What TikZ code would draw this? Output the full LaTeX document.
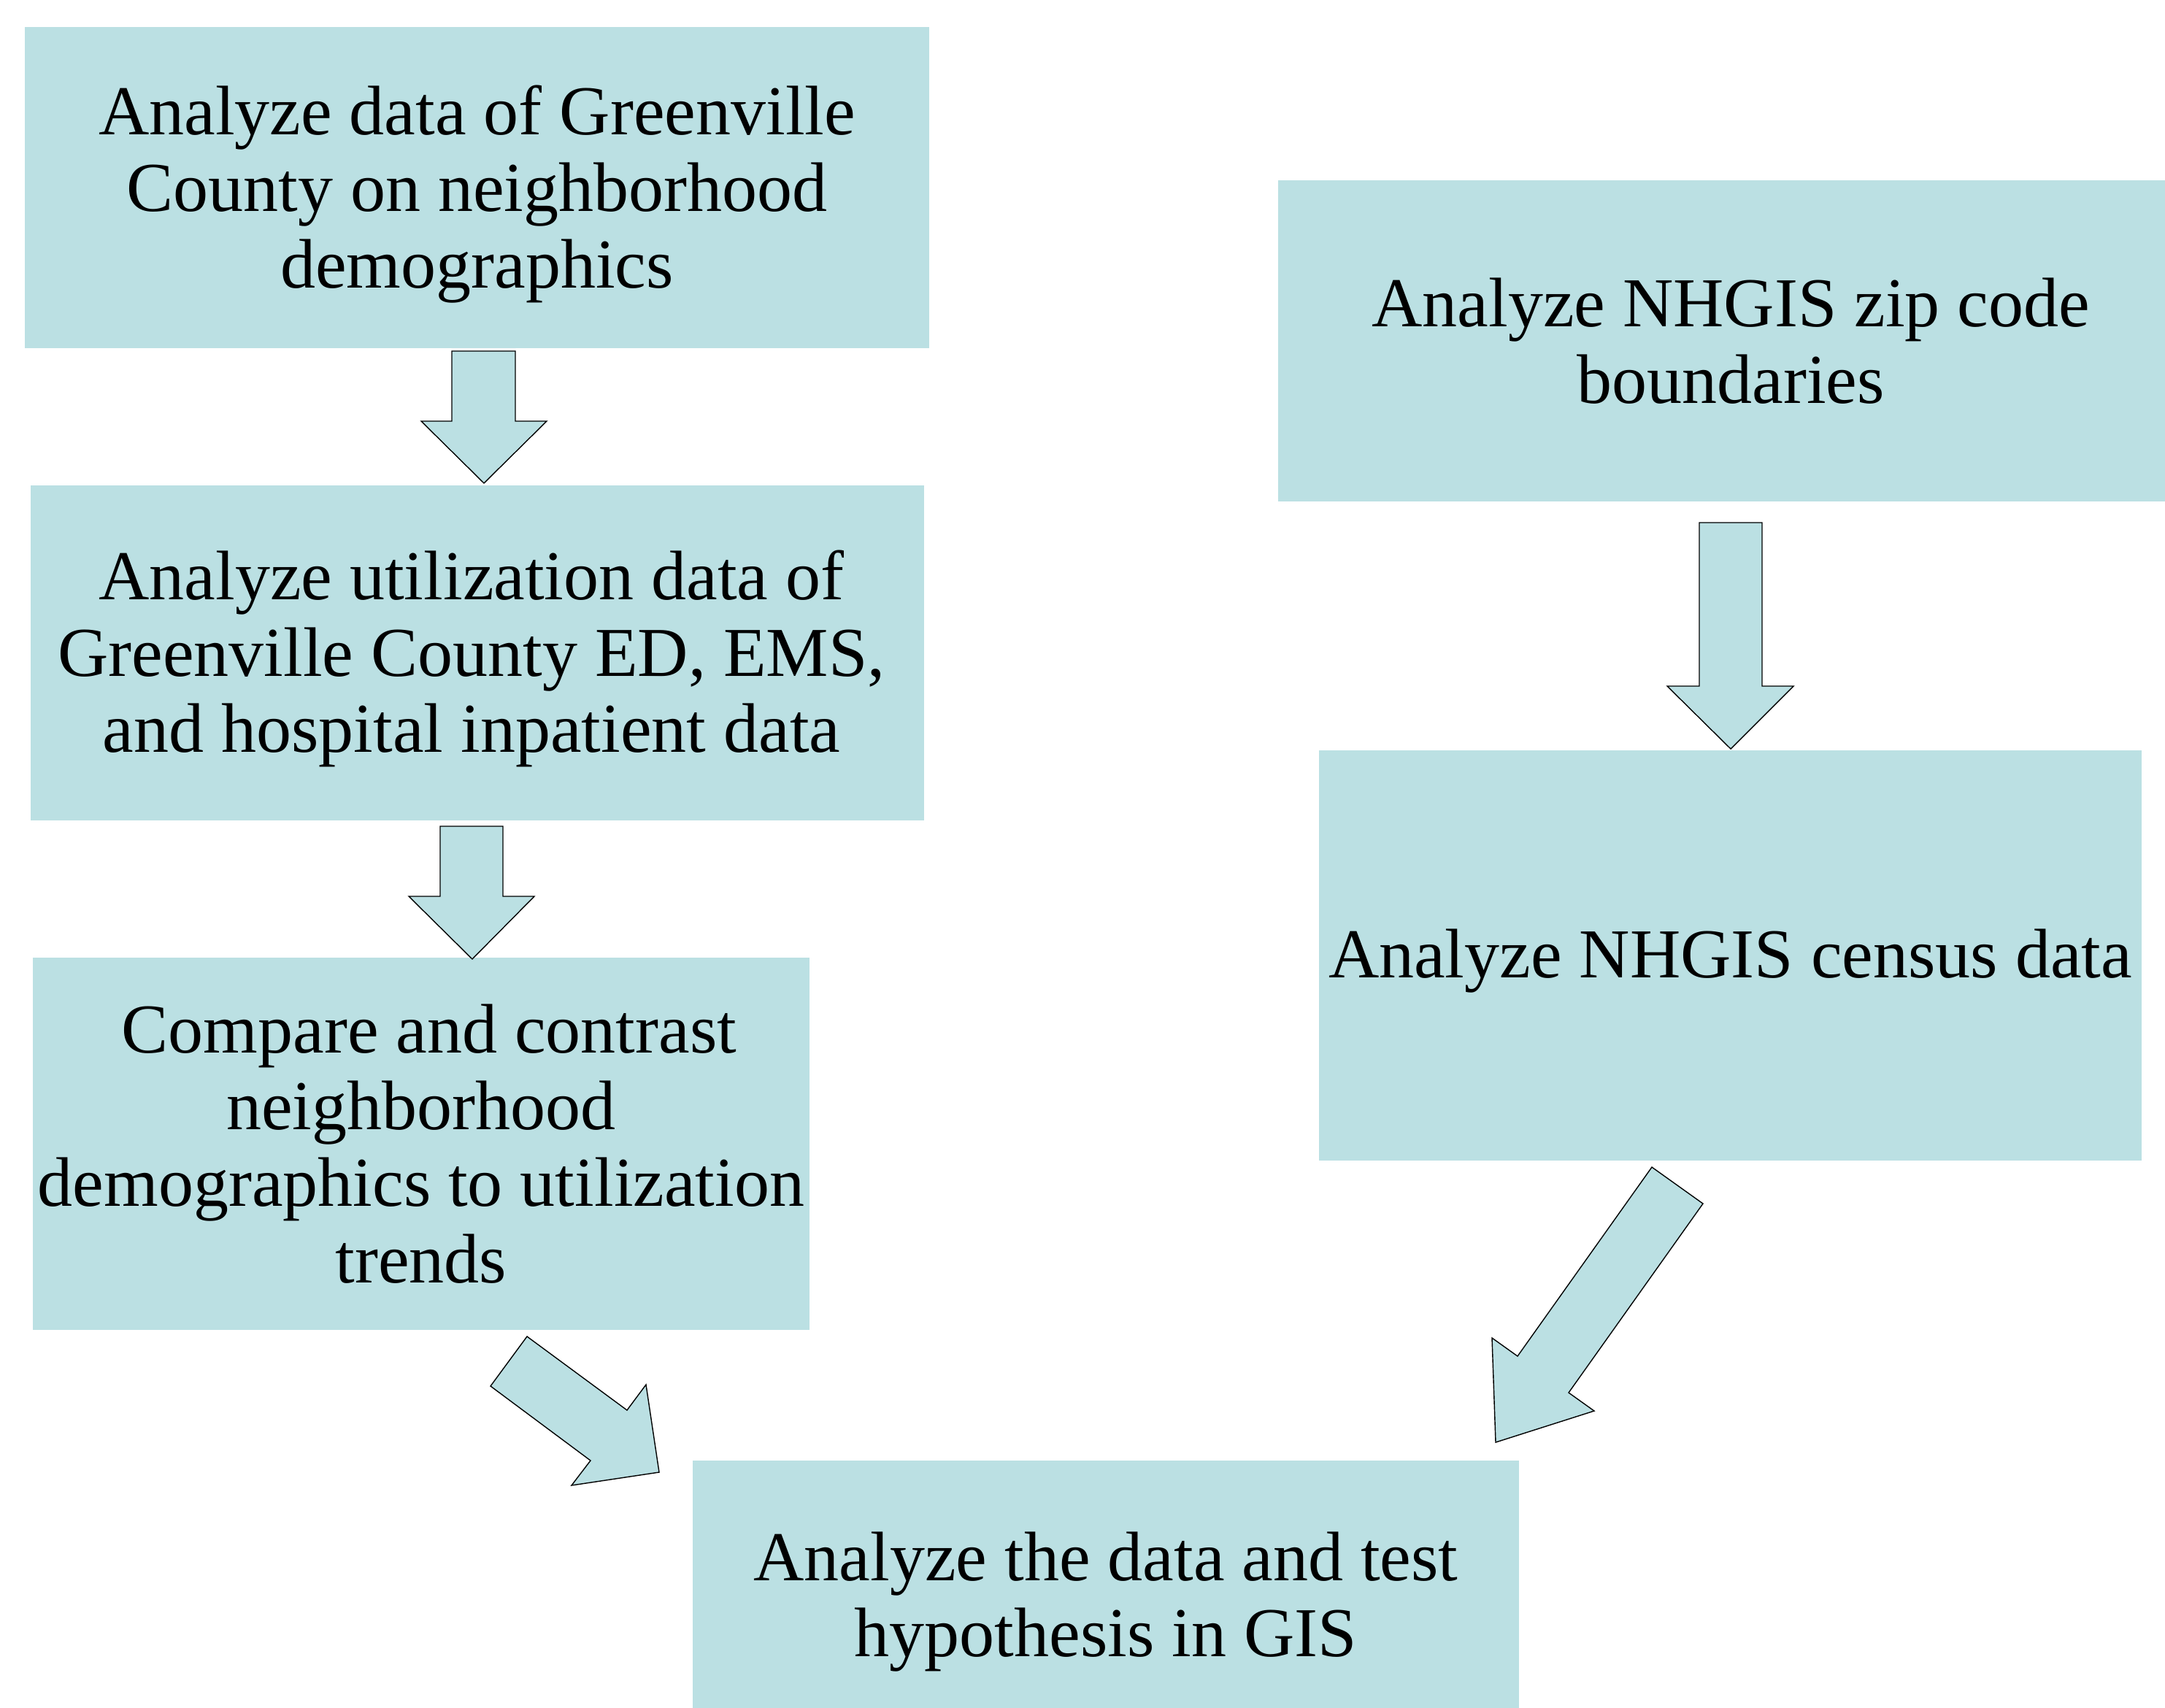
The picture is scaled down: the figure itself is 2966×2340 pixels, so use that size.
\documentclass[tikz,border=0pt]{standalone}
\usepackage{fontspec}
\setmainfont{Liberation Serif}
\definecolor{boxcol}{HTML}{BBE0E3}
\begin{document}
\begin{tikzpicture}[x=0.25pt,y=-0.25pt,
  box/.style={fill=boxcol,draw=none,inner sep=0pt,outer sep=0pt},
  txt/.style={inner sep=0pt,outer sep=0pt,align=center,
    font=\fontsize{24pt}{26.2pt}\selectfont},
  blockarrow/.style={fill=boxcol,draw=black,line width=0.35pt,line join=miter}]
\clip (0,0) rectangle (2966,2340);
\fill[white] (0,0) rectangle (2966,2340);
% boxes
\node[box,minimum width=309.75pt,minimum height=110pt] (b1) at (653.5,257) {};
\node[box,minimum width=306pt,minimum height=114.75pt] (b2) at (654,894.5) {};
\node[box,minimum width=266pt,minimum height=127.5pt] (b3) at (577,1567) {};
\node[box,minimum width=303.75pt,minimum height=110pt] (b4) at (2358.5,467) {};
\node[box,minimum width=281.75pt,minimum height=140.5pt] (b5) at (2370.5,1309) {};
\node[box,minimum width=283pt,minimum height=92.25pt] (b6) at (1515,2185.5) {};
% texts
\node[txt] (t1) at ([yshift=-2.25pt]b1.center)
  {Analyze data of Greenville\\County on neighborhood\\demographics};
\node[txt] (t2) at ([xshift=-2pt,yshift=-2pt]b2.center)
  {Analyze utilization data of\\Greenville County ED, EMS,\\and hospital inpatient data};
\node[txt] (t3) at ([yshift=0pt]b3.center)
  {\hspace*{5.5pt}Compare and contrast\\neighborhood\\demographics to utilization\\trends};
\node[txt] (t4) at ([xshift=3.2pt]b4.center)
  {Analyze NHGIS zip code\\boundaries};
\node[txt] (t5) at ([yshift=-2pt]b5.center)
  {Analyze NHGIS census data};
\node[txt] (t6) at ([yshift=-2.25pt]b6.center)
  {Analyze the data and test\\hypothesis in GIS};
% block arrows
\draw[blockarrow] (619,481) -- (706,481) -- (706,577) -- (749,577) -- (663,662)
  -- (577,577) -- (619,577) -- cycle;
\draw[blockarrow] (603,1132) -- (689,1132) -- (689,1228) -- (732,1228) -- (647,1314)
  -- (560,1228) -- (603,1228) -- cycle;
\draw[blockarrow] (2328,716) -- (2414,716) -- (2414,940) -- (2457,940) -- (2371,1026)
  -- (2284,940) -- (2328,940) -- cycle;
\draw[blockarrow] (722,1831) -- (859,1932) -- (885,1897) -- (903,2017) -- (783,2035)
  -- (809,2001) -- (672,1899) -- cycle;
\draw[blockarrow] (2263,1599) -- (2333,1649) -- (2149,1908) -- (2184,1933) -- (2049,1976)
  -- (2044,1833) -- (2079,1858) -- cycle;
\end{tikzpicture}
\end{document}
